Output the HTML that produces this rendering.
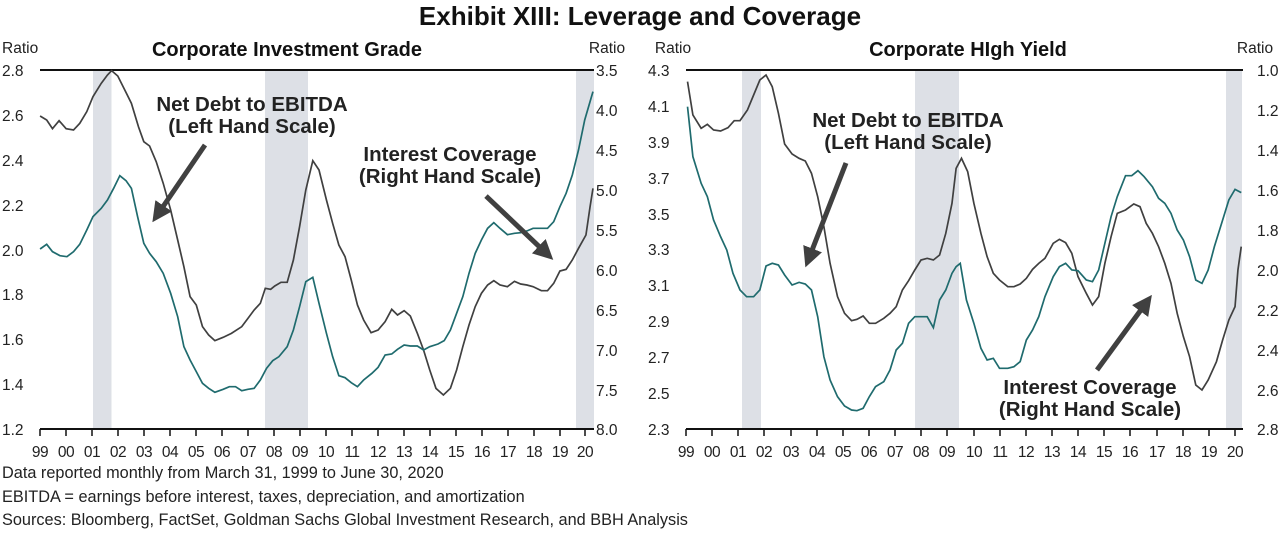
<!DOCTYPE html>
<html><head><meta charset="utf-8"><style>
body{margin:0;background:#fff;width:1280px;height:532px;overflow:hidden}
svg text{font-family:"Liberation Sans",sans-serif;fill:#222}
.t{font-size:15.5px}
.f{font-size:16.3px}
.b{font-weight:bold;font-size:20.5px;fill:#111}
.s{font-weight:bold;font-size:20px;fill:#111}
</style></head><body>
<svg width="1280" height="532" viewBox="0 0 1280 532" xmlns="http://www.w3.org/2000/svg">
<defs><marker id="ah" markerWidth="4" markerHeight="4" refX="2" refY="2" orient="auto"><path d="M0,0 L4,2 L0,4 z" fill="#404040"/></marker></defs>
<text x="640" y="25" text-anchor="middle" style="font-weight:bold;font-size:26px;fill:#111">Exhibit XIII: Leverage and Coverage</text>

<!-- LEFT CHART -->
<rect x="93" y="70" width="18.5" height="359" fill="#dde0e6"/>
<rect x="265" y="70" width="43" height="359" fill="#dde0e6"/>
<rect x="576" y="70" width="18" height="359" fill="#dde0e6"/>
<line x1="40" y1="70" x2="594" y2="70" stroke="#111" stroke-width="2"/>
<line x1="40" y1="429" x2="594" y2="429" stroke="#111" stroke-width="2"/>
<g stroke="#111" stroke-width="1.5">
<path d="M40,429v7M66,429v7M92,429v7M118,429v7M144,429v7M170,429v7M196,429v7M222,429v7M248,429v7M274,429v7M300,429v7M326,429v7M352,429v7M378,429v7M404,429v7M430,429v7M456,429v7M482,429v7M508,429v7M534,429v7M560,429v7M585,429v7"/>
</g>
<text x="2" y="53" class="t">Ratio</text>
<text x="607" y="53" class="t" text-anchor="middle">Ratio</text>
<text x="287" y="56" class="s" text-anchor="middle">Corporate Investment Grade</text>
<g class="t">
<text x="2" y="76">2.8</text><text x="2" y="121">2.6</text><text x="2" y="166">2.4</text><text x="2" y="211">2.2</text><text x="2" y="256">2.0</text><text x="2" y="300">1.8</text><text x="2" y="345">1.6</text><text x="2" y="390">1.4</text><text x="2" y="435">1.2</text>
</g>
<g class="t" text-anchor="start">
<text x="596" y="76">3.5</text><text x="596" y="116">4.0</text><text x="596" y="156">4.5</text><text x="596" y="196">5.0</text><text x="596" y="236">5.5</text><text x="596" y="276">6.0</text><text x="596" y="316">6.5</text><text x="596" y="356">7.0</text><text x="596" y="396">7.5</text><text x="596" y="435">8.0</text>
</g>
<g class="t" text-anchor="middle" style="letter-spacing:-0.5px">
<text x="40" y="457">99</text><text x="66" y="457">00</text><text x="92" y="457">01</text><text x="118" y="457">02</text><text x="144" y="457">03</text><text x="170" y="457">04</text><text x="196" y="457">05</text><text x="222" y="457">06</text><text x="248" y="457">07</text><text x="274" y="457">08</text><text x="300" y="457">09</text><text x="326" y="457">10</text><text x="352" y="457">11</text><text x="378" y="457">12</text><text x="404" y="457">13</text><text x="430" y="457">14</text><text x="456" y="457">15</text><text x="482" y="457">16</text><text x="508" y="457">17</text><text x="534" y="457">18</text><text x="560" y="457">19</text><text x="585" y="457">20</text>
</g>
<g transform="translate(0,30) scale(0.41322,0.33333)" fill="none" stroke-width="1.7">
<polyline vector-effect="non-scaling-stroke" stroke="#404040" points="97,258 113,270 127,296 143,272 160,296 178,300 193,280 210,245 225,200 245,160 260,135 270,122 285,138 300,175 318,220 335,290 348,335 362,348 378,395 395,460 413,540 430,630 445,710 460,800 475,825 490,890 505,915 520,932 540,922 560,910 585,890 600,865 615,840 630,820 642,775 655,778 665,768 680,757 695,757 710,690 725,590 740,480 757,392 772,420 790,510 805,580 820,645 835,680 850,750 865,825 880,870 898,908 915,900 932,875 948,838 962,855 978,842 993,858 1010,910 1025,960 1040,1020 1055,1075 1073,1095 1090,1075 1105,1020 1120,950 1135,885 1150,830 1165,790 1180,765 1195,752 1210,765 1228,770 1245,754 1260,762 1275,765 1290,770 1310,782 1325,782 1340,760 1355,723 1370,718 1385,690 1400,655 1418,615 1428,530 1435,475"/>
<polyline vector-effect="non-scaling-stroke" stroke="#1f6b6e" points="97,657 113,643 127,665 145,677 162,680 178,665 193,643 210,600 225,560 245,535 260,510 275,475 290,437 305,452 318,475 333,560 348,640 362,670 378,695 395,730 413,790 430,860 445,950 460,990 475,1025 490,1060 505,1075 520,1087 540,1078 555,1070 570,1070 585,1082 600,1078 615,1075 630,1050 645,1015 660,992 675,980 695,950 710,900 725,830 740,755 757,742 772,820 790,910 805,980 820,1037 835,1043 850,1058 865,1070 880,1050 900,1030 915,1012 932,975 948,972 962,958 978,945 993,948 1010,948 1025,960 1040,950 1060,942 1075,932 1090,900 1105,850 1120,800 1135,730 1150,670 1165,630 1180,595 1195,578 1210,595 1228,614 1245,610 1260,608 1275,603 1290,595 1310,595 1325,595 1340,575 1355,530 1370,490 1385,435 1400,360 1415,270 1435,185"/>
</g>
<line x1="205" y1="145" x2="158" y2="214" stroke="#404040" stroke-width="5" marker-end="url(#ah)"/>
<line x1="486" y1="196" x2="546" y2="253" stroke="#404040" stroke-width="5" marker-end="url(#ah)"/>
<g class="b" text-anchor="middle">
<text x="252" y="111">Net Debt to EBITDA</text><text x="252" y="133">(Left Hand Scale)</text>
<text x="450" y="161">Interest Coverage</text><text x="450" y="183">(Right Hand Scale)</text>
</g>

<!-- RIGHT CHART -->
<rect x="742" y="70" width="19" height="359" fill="#dde0e6"/>
<rect x="915" y="70" width="44" height="359" fill="#dde0e6"/>
<rect x="1226" y="70" width="16" height="359" fill="#dde0e6"/>
<line x1="686" y1="70" x2="1243" y2="70" stroke="#111" stroke-width="2"/>
<line x1="686" y1="429" x2="1243" y2="429" stroke="#111" stroke-width="2"/>
<g stroke="#111" stroke-width="1.5">
<path d="M686,429v7M712,429v7M738,429v7M764,429v7M791,429v7M817,429v7M843,429v7M869,429v7M895,429v7M921,429v7M947,429v7M974,429v7M1000,429v7M1026,429v7M1052,429v7M1078,429v7M1104,429v7M1130,429v7M1157,429v7M1183,429v7M1209,429v7M1235,429v7"/>
</g>
<text x="673" y="53" class="t" text-anchor="middle">Ratio</text>
<text x="1255" y="53" class="t" text-anchor="middle">Ratio</text>
<text x="968" y="56" class="s" text-anchor="middle">Corporate HIgh Yield</text>
<g class="t">
<text x="648" y="76">4.3</text><text x="648" y="112">4.1</text><text x="648" y="148">3.9</text><text x="648" y="184">3.7</text><text x="648" y="220">3.5</text><text x="648" y="255">3.3</text><text x="648" y="291">3.1</text><text x="648" y="327">2.9</text><text x="648" y="363">2.7</text><text x="648" y="399">2.5</text><text x="648" y="435">2.3</text>
<text x="1257" y="76">1.0</text><text x="1257" y="116">1.2</text><text x="1257" y="156">1.4</text><text x="1257" y="196">1.6</text><text x="1257" y="236">1.8</text><text x="1257" y="276">2.0</text><text x="1257" y="316">2.2</text><text x="1257" y="356">2.4</text><text x="1257" y="396">2.6</text><text x="1257" y="435">2.8</text>
</g>
<g class="t" text-anchor="middle" style="letter-spacing:-0.5px">
<text x="686" y="457">99</text><text x="712" y="457">00</text><text x="738" y="457">01</text><text x="764" y="457">02</text><text x="791" y="457">03</text><text x="817" y="457">04</text><text x="843" y="457">05</text><text x="869" y="457">06</text><text x="895" y="457">07</text><text x="921" y="457">08</text><text x="947" y="457">09</text><text x="974" y="457">10</text><text x="1000" y="457">11</text><text x="1026" y="457">12</text><text x="1052" y="457">13</text><text x="1078" y="457">14</text><text x="1104" y="457">15</text><text x="1130" y="457">16</text><text x="1157" y="457">17</text><text x="1183" y="457">18</text><text x="1209" y="457">19</text><text x="1235" y="457">20</text>
</g>
<g transform="translate(640,30) scale(0.41322,0.33333)" fill="none" stroke-width="1.7">
<polyline vector-effect="non-scaling-stroke" stroke="#404040" points="115,155 128,255 148,295 163,283 178,300 195,303 213,293 228,272 242,272 260,240 275,195 290,150 305,135 320,170 335,250 350,342 368,372 385,385 400,393 415,430 430,500 445,590 460,700 478,800 495,850 512,872 525,868 540,858 555,880 570,880 590,865 605,850 620,830 635,780 650,752 665,720 680,690 695,685 710,690 725,675 740,610 755,520 765,415 778,385 793,425 808,520 825,610 840,680 855,730 870,750 890,770 905,770 920,762 935,745 950,718 965,700 980,685 1000,640 1015,628 1030,638 1045,670 1060,740 1080,790 1095,825 1110,800 1125,700 1140,620 1155,550 1175,540 1195,522 1210,530 1225,580 1240,610 1255,650 1270,700 1285,760 1300,850 1315,920 1330,980 1345,1065 1360,1080 1375,1050 1395,995 1410,930 1425,870 1440,830 1447,720 1455,650"/>
<polyline vector-effect="non-scaling-stroke" stroke="#1f6b6e" points="115,230 128,380 148,460 163,500 178,570 195,620 210,660 225,730 242,780 258,800 275,800 290,780 305,708 320,700 335,705 350,735 368,765 385,757 400,762 415,780 430,860 445,980 460,1050 478,1100 495,1128 512,1140 525,1142 540,1135 555,1100 570,1070 590,1055 605,1020 620,960 635,940 650,880 665,860 680,860 695,860 710,893 725,810 740,780 755,730 765,710 775,700 790,810 808,880 825,955 840,990 855,985 870,1015 890,1015 905,1010 920,995 935,930 950,900 965,860 980,800 1000,740 1015,710 1030,700 1045,720 1060,722 1080,750 1095,755 1110,720 1125,640 1140,560 1155,500 1175,437 1190,437 1205,422 1220,440 1240,470 1255,505 1270,520 1285,550 1300,600 1315,630 1330,680 1345,750 1360,760 1375,720 1390,650 1410,570 1425,510 1440,478 1455,488"/>
</g>
<line x1="846" y1="163" x2="809" y2="258" stroke="#404040" stroke-width="5" marker-end="url(#ah)"/>
<line x1="1097" y1="370" x2="1146" y2="303" stroke="#404040" stroke-width="5" marker-end="url(#ah)"/>
<g class="b" text-anchor="middle">
<text x="908" y="127">Net Debt to EBITDA</text><text x="908" y="149">(Left Hand Scale)</text>
<text x="1090" y="394">Interest Coverage</text><text x="1090" y="416">(Right Hand Scale)</text>
</g>

<g class="f">
<text x="2" y="478">Data reported monthly from March 31, 1999 to June 30, 2020</text>
<text x="2" y="502">EBITDA = earnings before interest, taxes, depreciation, and amortization</text>
<text x="2" y="525">Sources: Bloomberg, FactSet, Goldman Sachs Global Investment Research, and BBH Analysis</text>
</g>
</svg>
</body></html>
